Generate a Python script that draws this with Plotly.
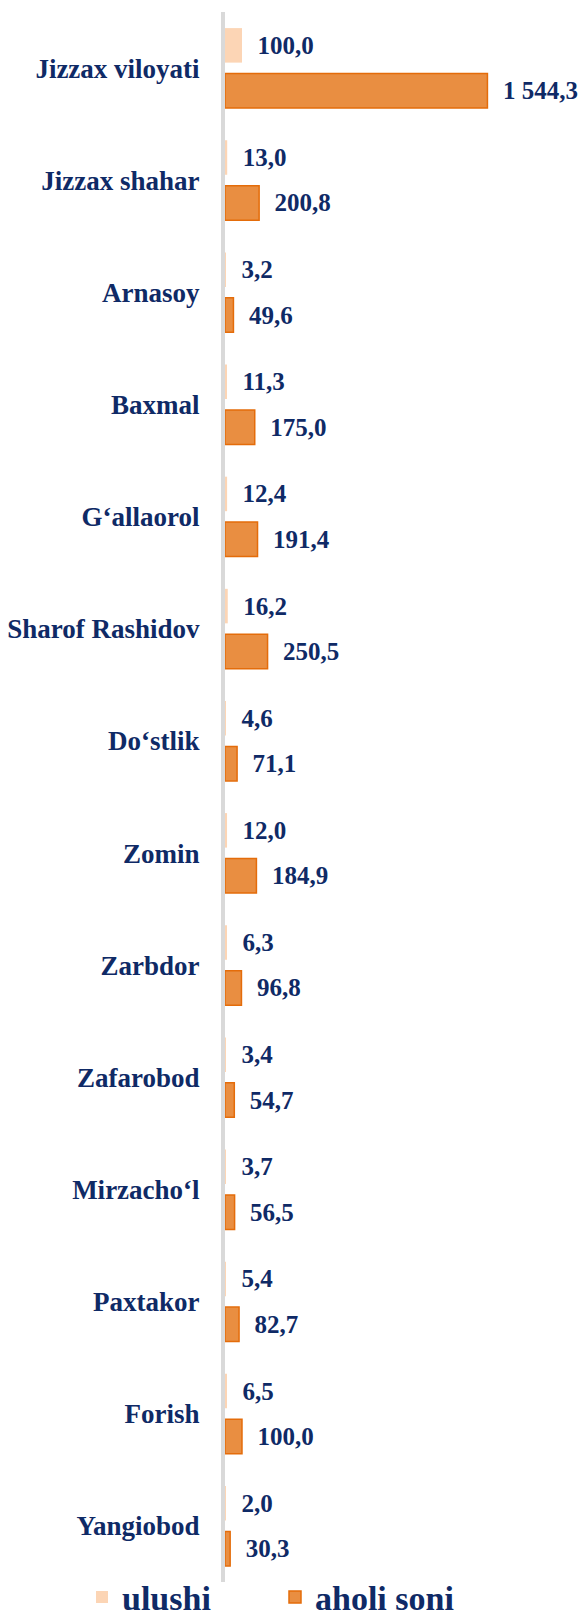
import plotly.graph_objects as go

categories = ["Jizzax viloyati", "Jizzax shahar", "Arnasoy", "Baxmal", "G‘allaorol",
              "Sharof Rashidov", "Do‘stlik", "Zomin", "Zarbdor", "Zafarobod",
              "Mirzacho‘l", "Paxtakor", "Forish", "Yangiobod"]
ulushi = [100.0, 13.0, 3.2, 11.3, 12.4, 16.2, 4.6, 12.0, 6.3, 3.4, 3.7, 5.4, 6.5, 2.0]
aholi_soni = [1544.3, 200.8, 49.6, 175.0, 191.4, 250.5, 71.1, 184.9, 96.8, 54.7, 56.5, 82.7, 100.0, 30.3]
series_names = ["ulushi", "aholi soni"]

NAVY = "#0F2A66"
FONT = "Liberation Serif"

fig = go.Figure()
fig.add_trace(go.Bar(
    y=categories, x=ulushi, orientation="h", name=series_names[0], legend="legend",
    marker=dict(color="#FCD5B5", line=dict(width=0)),
    texttemplate="\u00a0\u00a0%{x:,.1f}", textposition="outside",
    textfont=dict(family=FONT, size=25, color=NAVY, weight="bold"),
    cliponaxis=False, constraintext="none",
))
fig.add_trace(go.Bar(
    y=categories, x=aholi_soni, orientation="h", name=series_names[1], legend="legend2",
    marker=dict(color="#E98E41", line=dict(color="#E46C0A", width=1.5)),
    texttemplate="\u00a0\u00a0%{x:,.1f}", textposition="outside",
    textfont=dict(family=FONT, size=25, color=NAVY, weight="bold"),
    cliponaxis=False, constraintext="none",
))

legend_common = dict(
    orientation="h", xref="container", yref="container",
    xanchor="left", y=0.0115, yanchor="middle",
    font=dict(family=FONT, size=34, color=NAVY, weight="bold"),
    bgcolor="rgba(0,0,0,0)",
)

fig.update_layout(
    width=578, height=1616,
    margin=dict(l=225, r=15, t=12, b=34, autoexpand=False),
    barmode="group", bargap=0.19, bargroupgap=0.24,
    separators=", ",
    paper_bgcolor="white", plot_bgcolor="white",
    showlegend=True,
    legend=dict(x=82 / 578, **legend_common),
    legend2=dict(x=275 / 578, **legend_common),
    xaxis=dict(range=[0, 1989], showgrid=False, zeroline=False, showticklabels=False,
               showline=False, fixedrange=True, automargin=False),
    yaxis=dict(autorange="reversed", showgrid=False, zeroline=False, automargin=False,
               showline=True, linecolor="#D9D9D9", linewidth=4, ticks="",
               ticklabelstandoff=16, fixedrange=True,
               tickfont=dict(family=FONT, size=27, color=NAVY, weight="bold")),
)

fig.write_html("out.html", config={"displayModeBar": False},
               post_script="document.body.style.margin='0';document.body.style.overflow='hidden';")
